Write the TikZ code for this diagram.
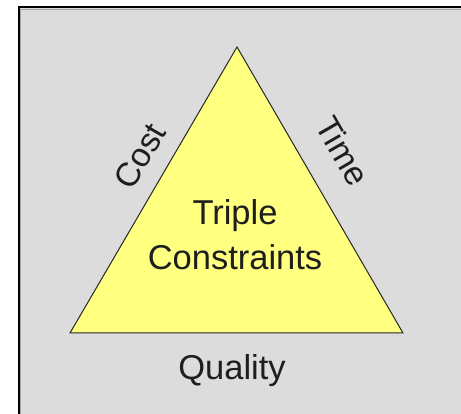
\documentclass[tikz,border=0pt]{standalone}
\usepackage{fontspec}
\setmainfont{Liberation Sans}
\definecolor{panelgrey}{HTML}{DCDCDC}
\definecolor{paleyellow}{HTML}{FFFF80}
\definecolor{inkgrey}{HTML}{1E1E1E}
\begin{document}
\begin{tikzpicture}[x=1pt,y=-1pt,
  label text/.style={text=inkgrey,inner sep=0pt,font=\fontsize{34.5}{40}\selectfont},
  side text/.style={label text,anchor=center,font=\fontsize{33.5}{38}\selectfont}]
\useasboundingbox (0,0) rectangle (461,414);
% grey panel with its dark top and left edges
\fill[white] (0,0) rectangle (461,414);
\fill[panelgrey] (19,8) rectangle (461,414);
\draw[black,line width=2pt] (18.5,414) -- (18.5,7.5) -- (461,7.5);
\draw[gray!70,line width=0.8pt] (20,414) -- (20,9) -- (461,9);
% the triangle
\coordinate (apex) at (237,47);
\coordinate (bl) at (70,333);
\coordinate (br) at (403,333);
\filldraw[fill=paleyellow,draw=black!85,line width=1pt,line join=miter] (apex) -- (bl) -- (br) -- cycle;
% texts
\node[label text,anchor=base] (triple) at (235,225) {Triple};
\node[label text,anchor=base] (constraints) at (235,270) {Constraints};
\node[label text,anchor=base] (quality) at (232,380) {Quality};
\node[side text,rotate=60] (cost) at (140,156) {Cost};
\node[side text,rotate=-60] (time) at (343,151) {Time};
\end{tikzpicture}
\end{document}
